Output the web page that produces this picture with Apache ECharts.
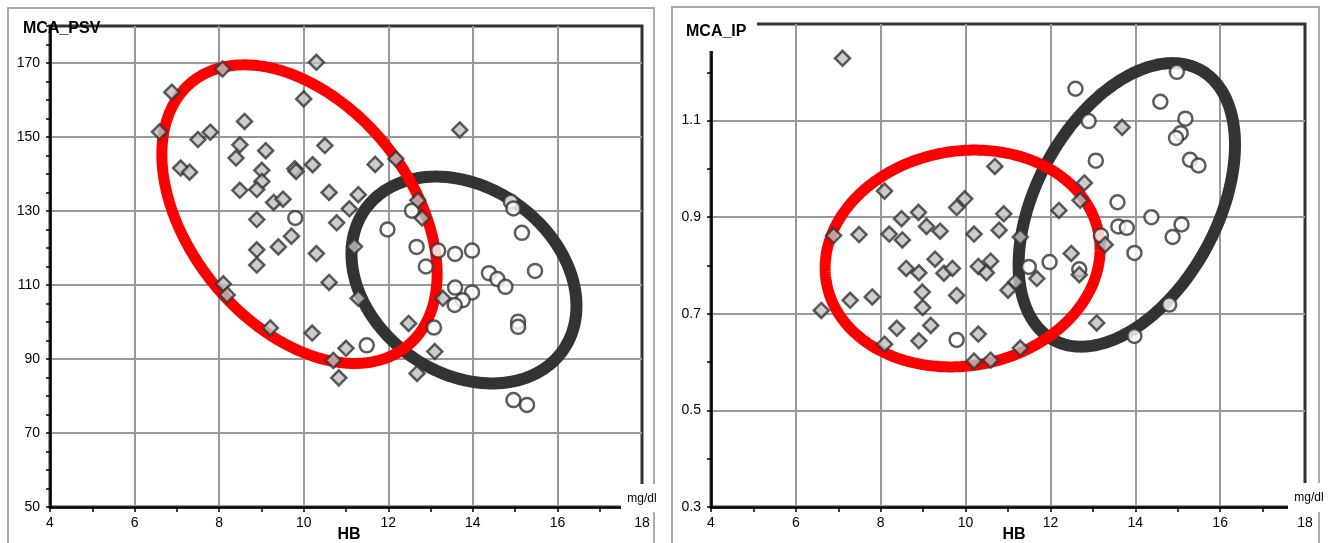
<!DOCTYPE html>
<html>
<head>
<meta charset="utf-8">
<script src="https://cdn.jsdelivr.net/npm/echarts@6/dist/echarts.min.js"></script>
<style>
  html, body { margin: 0; padding: 0; background: #fff; }
  #chartWrapper { width: 1332px; height: 543px; }
</style>
</head>
<body>
<div id="chartWrapper"></div>
<script>
// HB (g/dl) against MCA_PSV, two groups
const psvDiamonds = [
    [8.08,168.4],[6.88,162.1],[10.30,170.2],[10.0,160.3],[8.60,154.2],[6.59,151.4],[7.50,149.3],[7.79,151.3],
    [8.49,147.9],[8.40,144.3],[9.10,146.3],[10.5,147.7],[7.09,141.6],[7.30,140.5],[9.01,141.0],[9.01,138.0],
    [9.79,141.4],[9.82,140.7],[10.21,142.5],[8.49,135.6],[8.89,135.8],[9.29,132.3],[9.51,133.2],[10.60,135.0],
    [10.78,126.8],[8.89,127.7],[9.71,123.2],[9.40,120.3],[8.89,119.5],[8.89,115.4],[10.30,118.5],[10.60,110.7],
    [8.10,110.3],[8.19,107.3],[9.21,98.4],[10.20,97.0],[10.70,89.6],[10.83,84.9],[11.69,142.6],[12.18,144.1],
    [11.29,134.4],[11.08,130.6],[12.70,132.9],[12.80,128.1],[11.20,120.4],[11.29,106.4],[13.29,106.4],[12.48,99.6],
    [11.0,92.9],[13.1,92.0],[12.68,86.1],[13.69,151.9]
];
const psvCircles = [
    [9.80,128.1],[14.90,132.5],[14.96,130.7],[12.56,130.1],[11.98,125.0],[15.16,124.1],[12.67,120.3],[13.18,119.3],
    [13.58,118.4],[13.98,119.3],[12.89,115.0],[15.47,113.8],[14.38,113.2],[14.58,111.6],[14.77,109.5],[13.58,109.3],
    [13.98,108.0],[13.76,105.9],[13.57,104.6],[15.07,100.1],[15.07,98.7],[13.08,98.5],[11.49,93.7],[14.96,78.9],
    [15.28,77.6]
];
// HB against MCA_IP
const ipDiamonds = [
    [7.10,1.229],[10.69,1.005],[8.09,0.954],[9.98,0.938],[9.79,0.920],[8.89,0.910],[8.49,0.897],[10.9,0.907],
    [9.08,0.881],[9.40,0.871],[6.89,0.862],[7.49,0.864],[8.20,0.865],[8.51,0.853],[10.2,0.865],[10.79,0.873],
    [11.29,0.859],[9.28,0.813],[8.6,0.794],[8.9,0.785],[9.49,0.784],[9.69,0.794],[10.3,0.798],[10.59,0.809],
    [10.49,0.785],[11.18,0.766],[11.0,0.749],[8.98,0.745],[9.79,0.738],[7.28,0.728],[7.80,0.735],[6.6,0.707],
    [8.99,0.713],[9.18,0.676],[8.38,0.670],[10.3,0.658],[8.09,0.637],[8.9,0.644],[10.2,0.602],[10.59,0.604],
    [11.29,0.629],[13.69,1.086],[12.8,0.971],[12.70,0.935],[12.2,0.914],[13.29,0.843],[12.49,0.825],[12.68,0.781],
    [11.68,0.773],[13.09,0.681]
];
const ipCircles = [
    [9.79,0.646],[14.98,1.201],[12.59,1.166],[14.59,1.139],[12.9,1.099],[15.18,1.104],[15.07,1.074],[14.96,1.064],
    [13.07,1.017],[15.29,1.019],[15.49,1.007],[13.58,0.931],[14.38,0.900],[15.09,0.885],[13.6,0.881],[13.8,0.878],
    [14.88,0.859],[13.19,0.862],[13.98,0.826],[11.98,0.807],[11.49,0.797],[12.68,0.792],[14.8,0.719],[13.98,0.654]
];
// ellipses: centre x, centre y, half width, half height, phase (deg)
const psvEllipseA = [9.9, 129.15, 3.255, 40.35, 113.6];
const psvEllipseB = [13.79, 111.35, 2.66, 27.95, 104.5];
const ipEllipseA = [9.93, 0.8145, 3.24, 0.2245, 85];
const ipEllipseB = [13.8, 0.9255, 2.55, 0.2935, 65];

const hbTicks = [4, 6, 8, 10, 12, 14, 16, 18];
const psvTicks = [50, 70, 90, 110, 130, 150, 170];
const ipTicks = [0.3, 0.5, 0.7, 0.9, 1.1];

const FONT = '"Liberation Sans", Arial, sans-serif';
const GRID_GRAY = '#999';

function ellipseRenderer(width) {
    return function (params, api) {
        let cx = api.value(0), cy = api.value(1), ax = api.value(2), ay = api.value(3);
        let ph = api.value(4) * Math.PI / 180;
        let pts = [];
        for (let i = 0; i < 360; i++) {
            let t = i / 360 * Math.PI * 2;
            pts.push(api.coord([cx + ax * Math.cos(t), cy + ay * Math.cos(t - ph)]));
        }
        return {
            type: 'polygon',
            shape: { points: pts },
            style: { fill: 'none', stroke: api.visual('color'), lineWidth: width }
        };
    };
}

function splitColors(count, every) {
    // grey line only on labelled values, none on the top/right frame
    let arr = [];
    for (let i = 0; i < count; i++) {
        arr.push(i % every === 0 && i < count - 1 ? GRID_GRAY : 'transparent');
    }
    return arr;
}

function xAxisFor(gridIndex) {
    return {
        gridIndex: gridIndex,
        type: 'value',
        min: 4, max: 18, interval: 1,
        axisLine: { lineStyle: { color: '#000', width: 2.5 } },
        axisTick: { length: 5, lineStyle: { color: '#000', width: 1.5 } },
        axisLabel: {
            margin: 9, color: '#000', fontSize: 14, fontFamily: FONT,
            formatter: function (v) { return hbTicks.indexOf(v) >= 0 ? String(v) : ''; }
        },
        splitLine: { show: true, lineStyle: { color: splitColors(15, 2), width: 2 } }
    };
}

let myChart = echarts.init(document.getElementById('chartWrapper'));

let diamondStyle = { color: '#c0c0c0', borderColor: '#333', borderWidth: 2.5 };
let circleStyle = { color: '#fff', borderColor: '#333', borderWidth: 2.5 };

let option = {
    animation: false,
    backgroundColor: '#fff',
    grid: [
        { left: 50, top: 26, width: 592, height: 481, show: true, borderColor: '#333', borderWidth: 3, backgroundColor: 'transparent' },
        { left: 711, top: 24, width: 594, height: 483, show: true, borderColor: '#333', borderWidth: 3, backgroundColor: 'transparent' }
    ],
    xAxis: [xAxisFor(0), xAxisFor(1)],
    yAxis: [
        {
            gridIndex: 0, type: 'value', min: 50, max: 180, interval: 5,
            axisLine: { lineStyle: { color: '#000', width: 2.5 } },
            axisTick: { length: 4, lineStyle: { color: '#000', width: 1.5 } },
            axisLabel: {
                margin: 10, color: '#000', fontSize: 14, fontFamily: FONT,
                formatter: function (v) { return psvTicks.indexOf(Math.round(v)) >= 0 ? String(Math.round(v)) : ''; }
            },
            splitLine: { show: true, lineStyle: { color: splitColors(27, 4), width: 2 } }
        },
        {
            gridIndex: 1, type: 'value', min: 0.3, max: 1.3, interval: 0.1,
            axisLine: { lineStyle: { color: '#000', width: 2.5 } },
            axisTick: { length: 4, lineStyle: { color: '#000', width: 1.5 } },
            axisLabel: {
                margin: 10, color: '#000', fontSize: 14, fontFamily: FONT,
                formatter: function (v) {
                    let r = Math.round(v * 10) / 10;
                    return ipTicks.indexOf(r) >= 0 ? r.toFixed(1) : '';
                }
            },
            splitLine: { show: true, lineStyle: { color: splitColors(11, 2), width: 2 } }
        }
    ],
    series: [
        { type: 'custom', xAxisIndex: 0, yAxisIndex: 0, renderItem: ellipseRenderer(12), itemStyle: { color: '#333' },
          encode: { x: 0, y: 1 }, data: [psvEllipseB], z: 2 },
        { type: 'custom', xAxisIndex: 0, yAxisIndex: 0, renderItem: ellipseRenderer(11), itemStyle: { color: '#ff0000' },
          encode: { x: 0, y: 1 }, data: [psvEllipseA], z: 3 },
        { type: 'scatter', xAxisIndex: 0, yAxisIndex: 0, symbol: 'circle', symbolSize: 14, itemStyle: circleStyle, data: psvCircles, z: 4 },
        { type: 'scatter', xAxisIndex: 0, yAxisIndex: 0, symbol: 'diamond', symbolSize: 15, itemStyle: diamondStyle, data: psvDiamonds, z: 5 },

        { type: 'custom', xAxisIndex: 1, yAxisIndex: 1, renderItem: ellipseRenderer(12), itemStyle: { color: '#333' },
          encode: { x: 0, y: 1 }, data: [ipEllipseB], z: 2 },
        { type: 'custom', xAxisIndex: 1, yAxisIndex: 1, renderItem: ellipseRenderer(11), itemStyle: { color: '#ff0000' },
          encode: { x: 0, y: 1 }, data: [ipEllipseA], z: 3 },
        { type: 'scatter', xAxisIndex: 1, yAxisIndex: 1, symbol: 'circle', symbolSize: 14, itemStyle: circleStyle, data: ipCircles, z: 4 },
        { type: 'scatter', xAxisIndex: 1, yAxisIndex: 1, symbol: 'diamond', symbolSize: 15, itemStyle: diamondStyle, data: ipDiamonds, z: 5 }
    ],
    graphic: [
        // panel frames
        { type: 'rect', z: 100, silent: true, shape: { x: 8, y: 8, width: 646, height: 560 }, style: { fill: 'none', stroke: '#aaa', lineWidth: 2 } },
        { type: 'rect', z: 100, silent: true, shape: { x: 672, y: 7, width: 647, height: 560 }, style: { fill: 'none', stroke: '#aaa', lineWidth: 2 } },
        // title corner of the right panel
        { type: 'rect', z: 101, silent: true, shape: { x: 675, y: 11, width: 82, height: 40 }, style: { fill: '#fff' } },
        { type: 'text', z: 102, left: 23, top: 21, style: { text: 'MCA_PSV', font: 'bold 16px ' + FONT, fill: '#000' } },
        { type: 'text', z: 102, left: 686, top: 24, style: { text: 'MCA_IP', font: 'bold 16px ' + FONT, fill: '#000' } },
        // unit labels
        { type: 'rect', z: 101, silent: true, shape: { x: 621, y: 484, width: 38, height: 28 }, style: { fill: '#fff' } },
        { type: 'rect', z: 101, silent: true, shape: { x: 1288, y: 483, width: 38, height: 29 }, style: { fill: '#fff' } },
        { type: 'text', z: 102, x: 642, y: 499, style: { text: 'mg/dl', font: '12px ' + FONT, fill: '#000', textAlign: 'center', textVerticalAlign: 'middle' } },
        { type: 'text', z: 102, x: 1309, y: 498, style: { text: 'mg/dl', font: '12px ' + FONT, fill: '#000', textAlign: 'center', textVerticalAlign: 'middle' } },
        // x axis names
        { type: 'text', z: 102, x: 349, y: 535, style: { text: 'HB', font: 'bold 16px ' + FONT, fill: '#000', textAlign: 'center', textVerticalAlign: 'middle' } },
        { type: 'text', z: 102, x: 1014, y: 535, style: { text: 'HB', font: 'bold 16px ' + FONT, fill: '#000', textAlign: 'center', textVerticalAlign: 'middle' } }
    ]
};

myChart.setOption(option);
</script>
</body>
</html>
